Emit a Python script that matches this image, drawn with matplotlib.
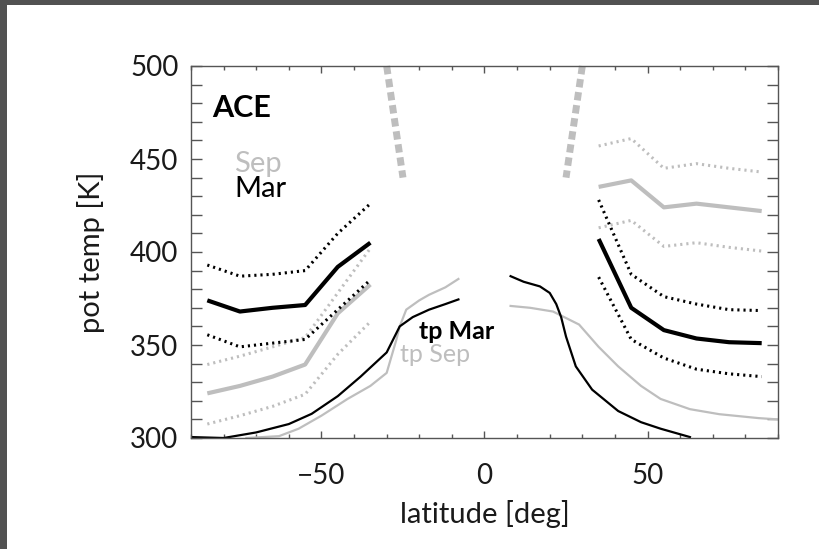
import matplotlib
matplotlib.use("Agg")
import matplotlib.pyplot as plt
from matplotlib.patches import Rectangle
from matplotlib.ticker import MultipleLocator

plt.rcParams['font.family'] = ['Lato', 'DejaVu Sans']

GRAY = '#bebebe'
INK = '#000000'
TEXT = '#1a1a1a'

# Zonal-mean isentropes (southern hemisphere)
lat_sh = [-85, -75, -65, -55, -45, -35]
mar_mean_sh = [374, 368, 370, 371.5, 392, 405]
mar_hi_sh = [393, 387, 388, 390, 410, 426]
mar_lo_sh = [355.5, 349, 351, 353, 369, 385]
sep_mean_sh = [324, 328, 333, 339.5, 367, 382.5]
sep_hi_sh = [339.5, 344, 349, 354, 378, 402]
sep_lo_sh = [307.5, 312, 317, 323.5, 345, 362.5]

# Zonal-mean isentropes (northern hemisphere)
lat_nh = [35, 45, 55, 65, 75, 85]
mar_mean_nh = [407, 370, 358, 353.5, 351.5, 351]
mar_hi_nh = [428, 388, 376, 372, 369, 368.5]
mar_lo_nh = [386.5, 353, 343, 337, 334.5, 333]
sep_mean_nh = [435, 438.5, 424, 426, 424, 422]
sep_hi_nh = [457, 461, 445, 447.5, 445, 443]
sep_lo_nh = [413, 417, 403, 405, 402.5, 400.5]

# Tropopause potential temperature
tp_mar_sh_lat = [-90, -80, -70, -60, -53, -45, -38, -30, -26, -22, -17, -12, -8]
tp_mar_sh = [300.5, 300, 303, 307.5, 313, 322.5, 333, 346, 360, 365, 369, 372, 374.5]
tp_sep_sh_lat = [-73, -63, -57, -50, -42, -35, -30, -27, -26, -24, -20, -17, -12, -8]
tp_sep_sh = [300, 301, 305, 312, 321, 328, 335, 353, 360, 369, 374, 377, 381, 385.5]
tp_mar_nh_lat = [8, 12, 17, 20, 22, 23.5, 25, 28, 33, 41, 48, 54, 63]
tp_mar_nh = [387, 384, 381.5, 378, 372, 365, 354.5, 338.5, 326, 314.5, 308.5, 305, 300.5]
tp_sep_nh_lat = [8, 14, 21, 29, 35, 41, 48, 54, 63, 72, 84, 90]
tp_sep_nh = [371, 370, 368, 361, 349, 338.5, 328, 321, 315.5, 312.8, 310.7, 310]

# Subtropical boundaries
bound_sh_lat = [-30, -25]
bound_nh_lat = [30, 25]
bound_theta = [500, 440]

W, H = 820, 549
fig = plt.figure(figsize=(W / 100, H / 100), dpi=100)
fig.patch.set_facecolor('white')
fig.patches.append(Rectangle((0, 0), 7 / W, 1, transform=fig.transFigure,
                             facecolor='#525252', edgecolor='none', zorder=0))
fig.patches.append(Rectangle((0, 1 - 5 / H), 1, 5 / H, transform=fig.transFigure,
                             facecolor='#525252', edgecolor='none', zorder=0))

ax = fig.add_axes([191 / W, (H - 438) / H, (778 - 191) / W, (438 - 66) / H])

dot = dict(linestyle=(0, (0.7, 1.3)), dash_capstyle='butt')

for lat, mean, hi, lo in [(lat_sh, sep_mean_sh, sep_hi_sh, sep_lo_sh),
                          (lat_nh, sep_mean_nh, sep_hi_nh, sep_lo_nh)]:
    ax.plot(lat, mean, color=GRAY, lw=3.0, solid_capstyle='butt')
    ax.plot(lat, hi, color=GRAY, lw=2.2, **dot)
    ax.plot(lat, lo, color=GRAY, lw=2.2, **dot)

for lat, mean, hi, lo in [(lat_sh, mar_mean_sh, mar_hi_sh, mar_lo_sh),
                          (lat_nh, mar_mean_nh, mar_hi_nh, mar_lo_nh)]:
    ax.plot(lat, mean, color=INK, lw=3.0, solid_capstyle='butt')
    ax.plot(lat, hi, color=INK, lw=2.2, **dot)
    ax.plot(lat, lo, color=INK, lw=2.2, **dot)

ax.plot(tp_sep_sh_lat, tp_sep_sh, color=GRAY, lw=1.6)
ax.plot(tp_sep_nh_lat, tp_sep_nh, color=GRAY, lw=1.6)
ax.plot(tp_mar_sh_lat, tp_mar_sh, color=INK, lw=1.6)
ax.plot(tp_mar_nh_lat, tp_mar_nh, color=INK, lw=1.6)

for blat in (bound_sh_lat, bound_nh_lat):
    ax.plot(blat, bound_theta, color=GRAY, lw=5, linestyle=(0, (1.2, 0.7)),
            dash_capstyle='butt', clip_on=False)

ax.set_xlim(-90, 90)
ax.set_ylim(300, 500)
ax.xaxis.set_major_locator(MultipleLocator(50))
ax.xaxis.set_minor_locator(MultipleLocator(10))
ax.yaxis.set_major_locator(MultipleLocator(50))
ax.yaxis.set_minor_locator(MultipleLocator(10))

ax.tick_params(axis='both', which='both', direction='in', top=True, right=True,
               color='#555555', width=1.0, labelcolor=TEXT)
ax.tick_params(axis='x', which='major', length=5, pad=18, labelsize=20)
ax.tick_params(axis='x', which='minor', length=3)
ax.tick_params(axis='y', which='both', length=8)
ax.tick_params(axis='y', which='major', pad=9, labelsize=20)
for sp in ax.spines.values():
    sp.set_color('#555555')
    sp.set_linewidth(1.0)

ax.set_xticks([-50, 0, 50])
ax.set_xticklabels(['\u221250', '0', '50'])
ax.set_yticks([300, 350, 400, 450, 500])
ax.set_yticklabels(['300', '350', '400', '450', '500'])

ax.set_xlabel('latitude [deg]', fontsize=21, color=TEXT, labelpad=8)
ax.set_ylabel('pot temp [K]', fontsize=21, color=TEXT, labelpad=18)

ax.text(-83.4, 472.7, 'ACE', fontsize=22, fontweight='bold', color=INK,
        ha='left', va='baseline')
ax.text(-76.7, 442.8, 'Sep', fontsize=21, color=GRAY, ha='left', va='baseline')
ax.text(-76.7, 429.4, 'Mar', fontsize=21, color=INK, ha='left', va='baseline')
ax.text(-20, 353, 'tp Mar', fontsize=18, fontweight='bold', color=INK,
        ha='left', va='baseline')
ax.text(-26, 340.6, 'tp Sep', fontsize=18, color=GRAY, ha='left', va='baseline')

fig.savefig('out.png', dpi=100)
